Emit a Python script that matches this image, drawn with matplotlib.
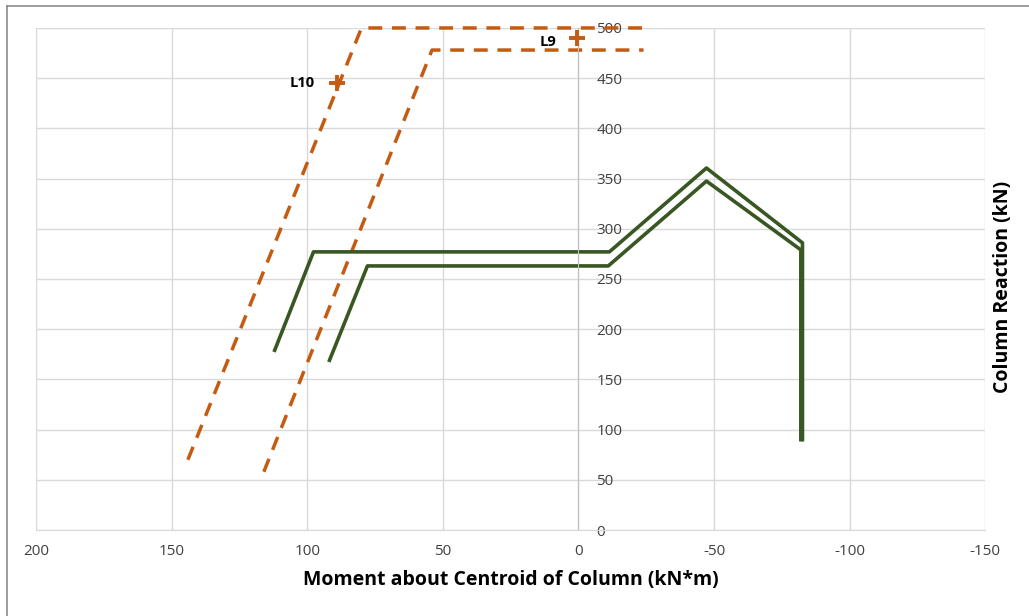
import matplotlib
matplotlib.use("Agg")
import matplotlib.pyplot as plt
from matplotlib.lines import Line2D

# orange dashed envelopes (moment, reaction)
env_outer_x = [144, 80, -24]
env_outer_y = [70, 500, 500]
env_inner_x = [116, 54, -24]
env_inner_y = [58, 478, 478]

# green load paths
path_outer_x = [112, 97.7, -11.4, -47.2, -82.6, -82.6]
path_outer_y = [179, 277, 277, 360.5, 286, 90]
path_inner_x = [91.8, 77.8, -11, -47.2, -82, -82]
path_inner_y = [169, 263, 263, 347.5, 279, 90]

# labelled points
pt_names = ["L10", "L9"]
pt_x = [89, 0.5]
pt_y = [445, 490]

xticks = [200, 150, 100, 50, 0, -50, -100, -150]
yticks = [0, 50, 100, 150, 200, 250, 300, 350, 400, 450, 500]

orange = "#c55a11"
green = "#385723"
grid_c = "#d9d9d9"
text_c = "#404040"


def main():
    plt.rcParams["font.family"] = ["Open Sans", "DejaVu Sans"]
    plt.rcParams["axes.unicode_minus"] = False
    fig = plt.figure(figsize=(10.29, 6.16), dpi=100)
    ax = fig.add_axes([0.035, 0.1396, 0.9225, 0.815])

    dash = (0, (4, 2.8))
    ax.plot(env_outer_x, env_outer_y, color=orange, lw=2.5, ls=dash, clip_on=False)
    ax.plot(env_inner_x, env_inner_y, color=orange, lw=2.5, ls=dash, clip_on=False)
    ax.plot(path_outer_x, path_outer_y, color=green, lw=2.6)
    ax.plot(path_inner_x, path_inner_y, color=green, lw=2.6)

    ax.scatter(pt_x, pt_y, marker="+", s=140, color=orange, linewidths=2.8, zorder=5)
    ax.annotate(pt_names[0], (pt_x[0], pt_y[0]), xytext=(-34, 0),
                textcoords="offset points", fontsize=10.5, fontweight="bold",
                va="center")
    ax.annotate(pt_names[1], (pt_x[1], pt_y[1]), xytext=(-27, -3),
                textcoords="offset points", fontsize=10.5, fontweight="bold",
                va="center")

    ax.set_xlim(200, -150)
    ax.set_ylim(0, 500)
    ax.set_xticks(xticks)
    ax.set_yticks(yticks)
    ax.grid(True, color=grid_c, lw=1)
    ax.set_axisbelow(True)

    for s in ["top", "left"]:
        ax.spines[s].set_visible(False)
    ax.spines["bottom"].set_color(grid_c)
    ax.spines["right"].set_position(("data", 0))
    ax.spines["right"].set_color("#bfbfbf")
    ax.yaxis.tick_right()
    ax.tick_params(axis="y", length=0, pad=13, labelsize=11, labelcolor=text_c)
    ax.tick_params(axis="x", length=0, pad=10, labelsize=11, labelcolor=text_c)

    ax.set_xlabel("Moment about Centroid of Column (kN*m)", fontsize=14,
                  fontweight="bold", labelpad=8)
    fig.text(0.975, 0.535, "Column Reaction (kN)", rotation=90, fontsize=14,
             fontweight="bold", ha="center", va="center")

    # chart border remnants
    fig.add_artist(Line2D([0.007, 1], [0.99, 0.99], color="#8c8c8c", lw=1.2))
    fig.add_artist(Line2D([0.007, 0.007], [0, 0.99], color="#8c8c8c", lw=1.2))

    fig.savefig("out.png", dpi=100)


if __name__ == "__main__":
    main()
